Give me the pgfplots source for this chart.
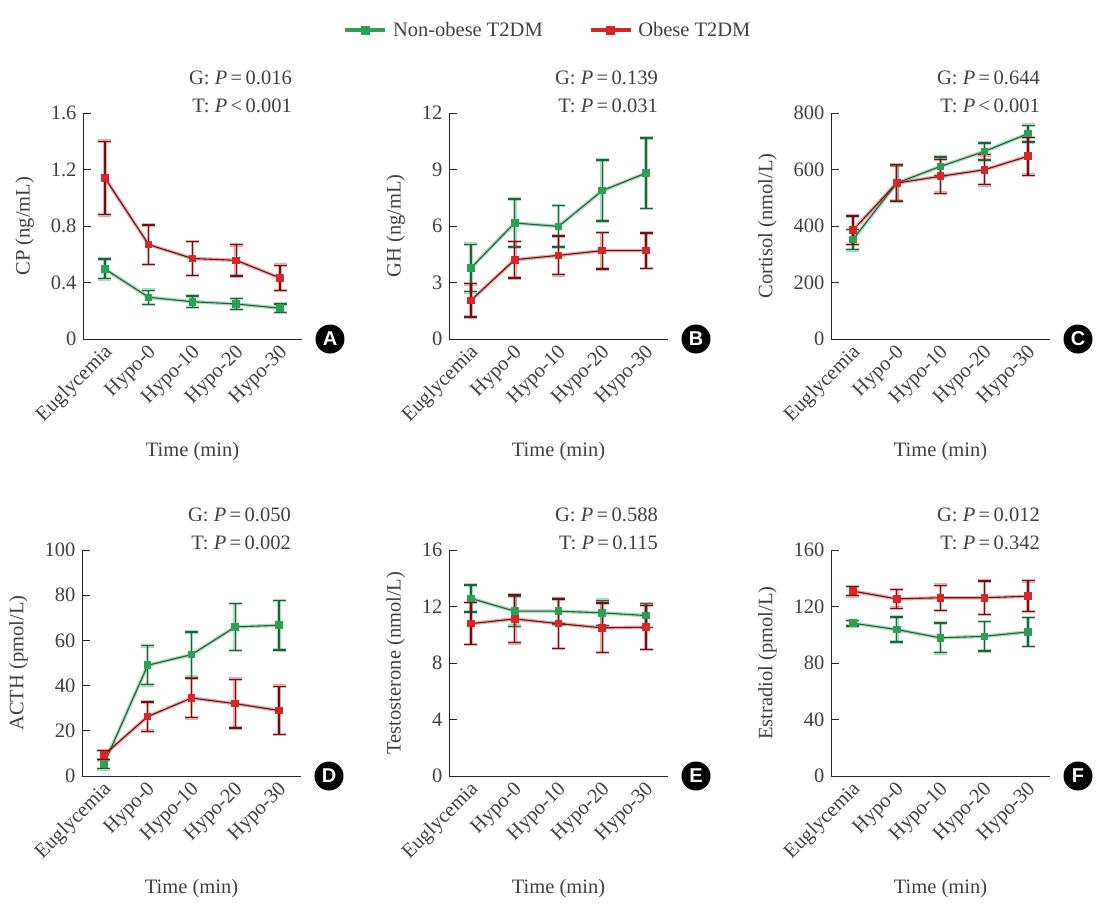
\documentclass[border=0pt]{standalone}
\usepackage{fontspec}
\setmainfont{Liberation Serif}
\setsansfont{Liberation Sans}
\usepackage{pgfplots}
\pgfplotsset{compat=1.18}

\definecolor{gA}{RGB}{44,160,85}
\definecolor{gD}{RGB}{28,98,58}
\definecolor{rA}{RGB}{214,38,42}
\definecolor{rD}{RGB}{98,20,22}
\definecolor{txt}{RGB}{64,64,64}
\newcommand\fsz{\fontsize{20.5}{24}\selectfont}

\pgfplotsset{
  panel/.style={
    scale only axis, width=219pt, height=226pt,
    anchor=south west,
    xmin=-0.5, xmax=4.5, ymin=0,
    axis x line*=bottom, axis y line*=left,
    axis line style={line width=0.9pt, black!85},
    xtick={0,...,4},
    xticklabels={Euglycemia,Hypo-0,Hypo-10,Hypo-20,Hypo-30},
    xtick style={draw=none},
    ytick style={line width=0.9pt, black!85},
    tick align=inside, major tick length=8pt,
    /pgf/number format/assume math mode=true,
    xticklabel style={xshift=7pt, yshift=-8pt, rotate=45, anchor=east, font=\fsz, text=txt},
    yticklabel style={xshift=-3pt, font=\fsz, text=txt},
    every axis x label/.style={at={(axis description cs:0.5,0)}, yshift=-113pt, anchor=center, font=\fsz, text=txt},
    ylabel style={font=\fsz, text=txt},
    ylabel shift=10pt,
    xlabel={Time (min)},
    clip=false,
  },
  halo/.style={
    forget plot, color=#1, opacity=0.4, line width=3.6pt, mark=none,
    error bars/y dir=both, error bars/y explicit,
    error bars/error bar style={line width=3.6pt, color=#1, opacity=0.4},
    error bars/error mark options={rotate=90, mark size=6.5pt, line width=3.6pt, color=#1, opacity=0.4},
  },
  core/.style 2 args={
    forget plot, color=#2, line width=1.1pt, mark=square*, mark size=3.3pt,
    mark options={fill=#1, draw=#1, line width=0pt},
    error bars/y dir=both, error bars/y explicit,
    error bars/error bar style={line width=1.3pt, color=#2},
    error bars/error mark options={rotate=90, mark size=6.5pt, line width=1.3pt, color=#2},
  },
}

% mean and SEM per time point
\pgfplotstableread{
x y e
0 0.496 0.07
1 0.295 0.05
2 0.264 0.04
3 0.248 0.04
4 0.218 0.03
}\cpN
\pgfplotstableread{
x y e
0 1.14 0.26
1 0.668 0.14
2 0.570 0.12
3 0.557 0.11
4 0.432 0.09
}\cpO
\pgfplotstableread{
x y e
0 3.77 1.26
1 6.16 1.27
2 5.98 1.10
3 7.88 1.62
4 8.81 1.87
}\ghN
\pgfplotstableread{
x y e
0 2.05 0.88
1 4.21 0.97
2 4.44 1.03
3 4.69 0.97
4 4.69 0.94
}\ghO
\pgfplotstableread{
x y e
0 352 36
1 552 62
2 611 33
3 664 30
4 727 30
}\coN
\pgfplotstableread{
x y e
0 385 50
1 552 65
2 576 60
3 599 53
4 647 67
}\coO
\pgfplotstableread{
x y e
0 5.2 2.0
1 49.0 8.6
2 53.7 10.0
3 66.0 10.4
4 66.7 11.0
}\acN
\pgfplotstableread{
x y e
0 9.3 2.0
1 26.3 6.5
2 34.5 8.7
3 32.0 10.8
4 29.0 10.7
}\acO
\pgfplotstableread{
x y e
0 12.57 0.95
1 11.67 1.07
2 11.67 0.90
3 11.55 0.90
4 11.36 0.85
}\teN
\pgfplotstableread{
x y e
0 10.79 1.48
1 11.12 1.69
2 10.79 1.75
3 10.49 1.75
4 10.53 1.56
}\teO
\pgfplotstableread{
x y e
0 108.2 2.0
1 103.7 8.9
2 97.8 10.6
3 98.9 10.4
4 102.0 10.3
}\esN
\pgfplotstableread{
x y e
0 130.9 3.3
1 125.4 6.6
2 126.2 8.9
3 126.2 11.9
4 127.3 10.9
}\esO

\newcommand\series[2]{%
  \addplot[halo=gA] table[x=x,y=y,y error=e] {#1};
  \addplot[core={gA}{gD}] table[x=x,y=y,y error=e] {#1};
  \addplot[halo=rA] table[x=x,y=y,y error=e] {#2};
  \addplot[core={rA}{rD}] table[x=x,y=y,y error=e] {#2};
}
\newcommand\pvals[2]{%
  \node[anchor=east, font=\fsz, text=txt, inner sep=0pt] at (rel axis cs:1,1) [xshift=-10pt, yshift=35pt] {#1};
  \node[anchor=east, font=\fsz, text=txt, inner sep=0pt] at (rel axis cs:1,1) [xshift=-10pt, yshift=7pt] {#2};
}
\newcommand\tag[1]{%
  \node[circle, fill=black, minimum size=29pt, inner sep=0pt, text=white,
        font=\sffamily\bfseries\fontsize{20}{20}\selectfont]
        at (rel axis cs:1,0) [xshift=28pt] {#1};
}

\begin{document}
\begin{tikzpicture}
\path[use as bounding box] (0pt,0pt) rectangle (1112pt,-913pt);

% A: C-peptide
\begin{axis}[panel, at={(83pt,-339pt)}, ymax=1.6, ytick={0,0.4,0.8,1.2,1.6},
  yticklabel style={/pgf/number format/fixed, /pgf/number format/precision=1},
  ylabel={CP (ng/mL)}]
  \series{\cpN}{\cpO}
  \pvals{G: \textit{P}\,=\,0.016}{T: \textit{P}\,<\,0.001}
  \tag{A}
\end{axis}

% B: growth hormone, carries the shared legend
\begin{axis}[panel, at={(449pt,-339pt)}, ymax=12, ytick={0,3,6,9,12},
  ylabel={GH (ng/mL)},
  legend columns=2,
  legend style={draw=none, fill=none, font=\fsz, text=txt,
    at={(axis description cs:0.452,1.367)}, anchor=center,
    /tikz/every odd column/.append style={column sep=4pt},
    /tikz/every even column/.append style={column sep=44pt}},
  legend image code/.code={\draw[mark repeat=2, mark phase=2] plot coordinates {(0pt,0pt) (20pt,0pt) (40pt,0pt)};}]
  \series{\ghN}{\ghO}
  \pvals{G: \textit{P}\,=\,0.139}{T: \textit{P}\,=\,0.031}
  \tag{B}
  \addlegendimage{gA, line width=3.5pt, mark=square*, mark size=4pt, mark options={line width=0pt}}
  \addlegendentry{Non-obese T2DM}
  \addlegendimage{rA, line width=3.5pt, mark=square*, mark size=4pt, mark options={line width=0pt}}
  \addlegendentry{Obese T2DM}
\end{axis}

% C: cortisol
\begin{axis}[panel, at={(831pt,-339pt)}, ymax=800, ytick={0,200,400,600,800},
  ylabel={Cortisol (nmol/L)}]
  \series{\coN}{\coO}
  \pvals{G: \textit{P}\,=\,0.644}{T: \textit{P}\,<\,0.001}
  \tag{C}
\end{axis}

% D: ACTH
\begin{axis}[panel, at={(82pt,-776pt)}, ymax=100, ytick={0,20,40,60,80,100},
  ylabel={ACTH (pmol/L)}]
  \series{\acN}{\acO}
  \pvals{G: \textit{P}\,=\,0.050}{T: \textit{P}\,=\,0.002}
  \tag{D}
\end{axis}

% E: testosterone
\begin{axis}[panel, at={(449pt,-776pt)}, ymax=16, ytick={0,4,8,12,16},
  ylabel={Testosterone (nmol/L)}]
  \series{\teN}{\teO}
  \pvals{G: \textit{P}\,=\,0.588}{T: \textit{P}\,=\,0.115}
  \tag{E}
\end{axis}

% F: estradiol
\begin{axis}[panel, at={(831pt,-776pt)}, ymax=160, ytick={0,40,80,120,160},
  ylabel={Estradiol (pmol/L)}]
  \series{\esN}{\esO}
  \pvals{G: \textit{P}\,=\,0.012}{T: \textit{P}\,=\,0.342}
  \tag{F}
\end{axis}
\end{tikzpicture}
\end{document}
